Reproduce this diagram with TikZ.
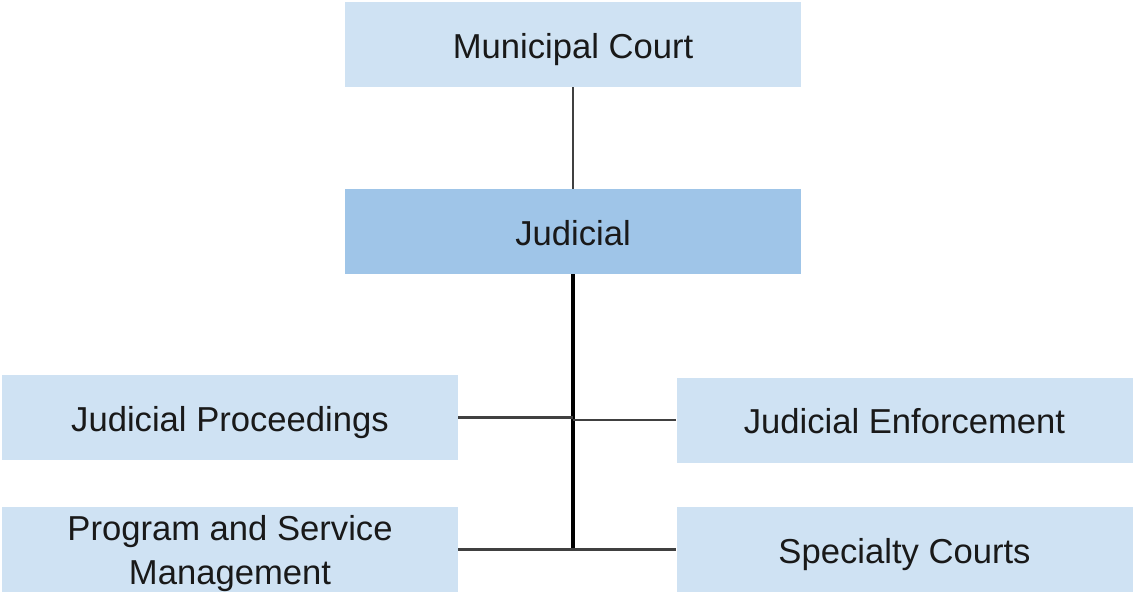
\documentclass[tikz,border=0pt]{standalone}
\usepackage{fontspec}
\setmainfont{Liberation Sans}
\usepackage{tikz}

\definecolor{unitblue}{HTML}{CFE2F3}
\definecolor{headblue}{HTML}{9FC5E8}

\begin{document}
\begin{tikzpicture}[
    unit/.style={fill=unitblue, minimum width=9.12cm, minimum height=1.7cm,
        align=center, inner sep=0pt, text=black!90,
        text height=0.54cm, text depth=0pt,
        font=\fontsize{19.7}{24.5}\selectfont},
    head/.style={unit, fill=headblue},
    link/.style={draw=black!75, line width=1.4pt}
]
    \useasboundingbox (0,0) rectangle (22.7,-11.88);

    % Top level
    \node[unit] (court) at (11.46,-0.89) {Municipal Court};
    \node[head] (jud) at (11.46,-4.63) {Judicial};

    % Divisions
    \node[unit] (proc) at (4.6,-8.35) {Judicial Proceedings};
    \node[unit] (enf) at (18.09,-8.4) {Judicial Enforcement};
    \node[unit, text height=1.38cm] (prog) at (4.6,-10.99)
        {Program and Service\\Management}; % two lines
    \node[unit] (spec) at (18.09,-10.99) {Specialty Courts};

    % Connectors
    \draw[link, line width=1.1pt] (court) -- (jud);
    \draw[line width=2pt] (jud.south) -- (jud.south |- prog.east); % trunk
    \draw[link] (proc.east) -- (proc.east -| jud.south);
    \draw[link] (enf.west) -- (enf.west -| jud.south);
    \draw[link] (prog.east) -- (spec.west);
\end{tikzpicture}
\end{document}
